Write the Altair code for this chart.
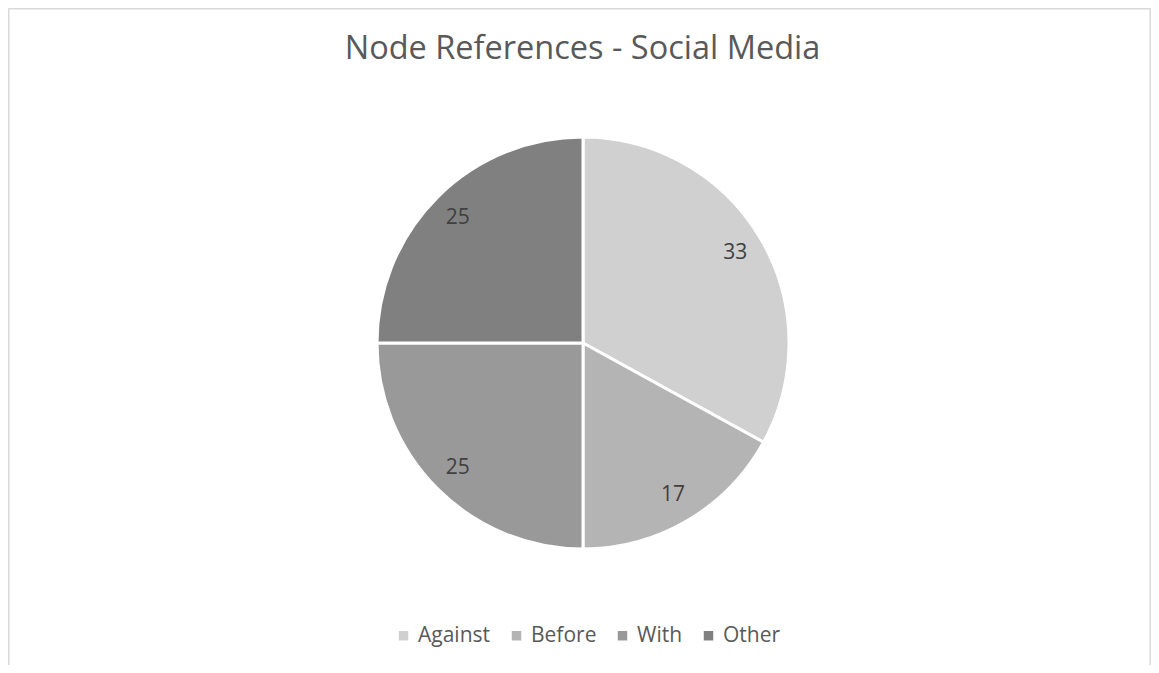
import altair as alt
import pandas as pd

categories = ["Against", "Before", "With", "Other"]
values = [33, 17, 25, 25]
colors = ["#d0d0d0", "#b4b4b4", "#999999", "#808080"]
title_text = "Node References - Social Media"

df = pd.DataFrame({"category": categories, "value": values, "order": list(range(len(categories)))})

W, H = 1143, 657
CX, CY, R = 575, 335, 206
FONT = "Open Sans"

color_scale = alt.Scale(domain=categories, range=colors)

base = alt.Chart(df).encode(
    theta=alt.Theta("value:Q", stack=True),
    order=alt.Order("order:Q"),
)

arcs = base.mark_arc(radius=R, stroke="white", strokeWidth=3).encode(
    x=alt.value(CX),
    y=alt.value(CY),
    color=alt.Color(
        "category:N",
        scale=color_scale,
        sort=categories,
        legend=alt.Legend(
            title=None,
            orient="none",
            legendX=385,
            legendY=617,
            direction="horizontal",
            symbolType="square",
            symbolSize=90,
            symbolStrokeWidth=0,
            labelFontSize=21,
            labelFont=FONT,
            labelColor="#595959",
            labelOffset=4,
            columnPadding=15,
            padding=0,
        ),
    ),
)

labels = base.mark_text(radius=177, fontSize=21, font=FONT, color="#404040").encode(
    x=alt.value(CX),
    y=alt.value(CY),
    text=alt.Text("value:Q"),
)

title = alt.Chart(pd.DataFrame({"t": [title_text]})).mark_text(
    fontSize=32.5, font=FONT, color="#595959", align="center", baseline="alphabetic"
).encode(x=alt.value(574.5), y=alt.value(51), text="t:N")

border_color = "#d9d9d9"
border_df = pd.DataFrame({"k": [0]})
left = alt.Chart(border_df).mark_rule(color=border_color, strokeWidth=1.5).encode(
    x=alt.value(0.75), y=alt.value(0), y2=alt.value(H)
)
top = alt.Chart(border_df).mark_rule(color=border_color, strokeWidth=1.5).encode(
    x=alt.value(0), x2=alt.value(W), y=alt.value(0.75)
)
right = alt.Chart(border_df).mark_rule(color=border_color, strokeWidth=1.5).encode(
    x=alt.value(W - 0.75), y=alt.value(0), y2=alt.value(H)
)

chart = alt.layer(arcs, labels, title, left, top, right).properties(
    width=W, height=H, padding=0, autosize=alt.AutoSizeParams(type="none")
).configure_view(stroke=None)

chart.save("out.html", embed_options={"renderer": "svg", "actions": False})
